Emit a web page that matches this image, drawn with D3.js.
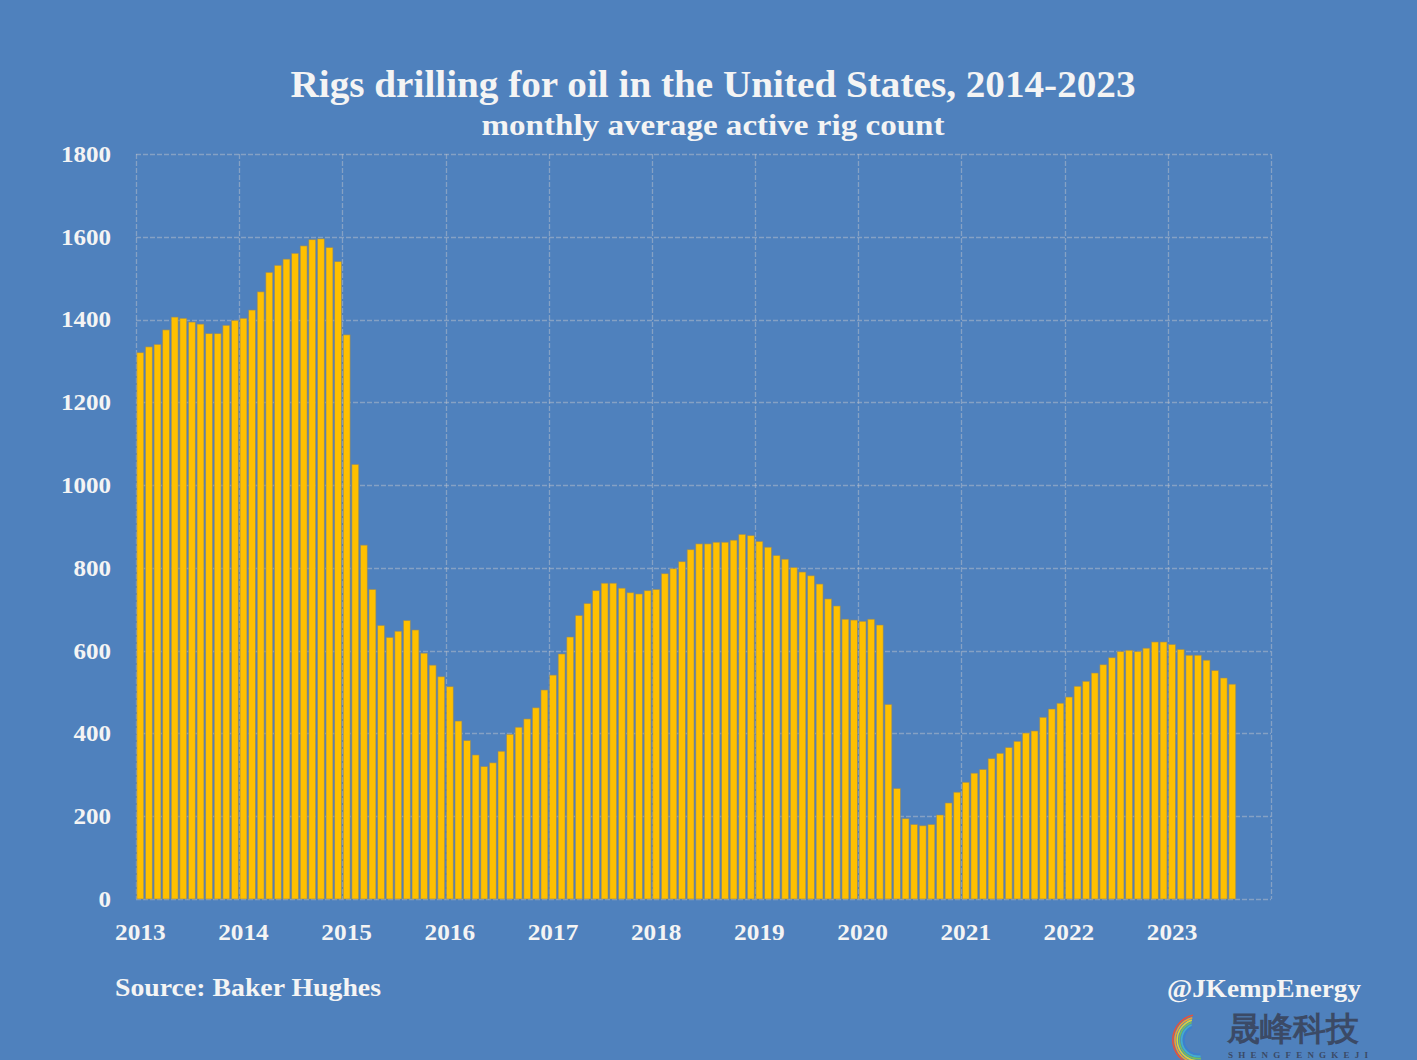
<!DOCTYPE html>
<html>
<head>
<meta charset="utf-8">
<script src="https://cdn.jsdelivr.net/npm/d3@7"></script>
<style>
  html, body { margin: 0; padding: 0; background: #4F81BD; }
  svg { display: block; }
  text { font-family: "Liberation Serif", "DejaVu Serif", serif; font-weight: bold; fill: #F4F4F4; }
</style>
</head>
<body>
<svg id="chart" width="1417" height="1060"></svg>
<script>
// ---------- data ----------
const years = [2013, 2014, 2015, 2016, 2017, 2018, 2019, 2020, 2021, 2022, 2023];
const axisYears = [2013, 2014, 2015, 2016, 2017, 2018, 2019, 2020, 2021, 2022, 2023, 2024];
const rigs2013 = [1320, 1334, 1340, 1375, 1406, 1403, 1394, 1389, 1366, 1366, 1386, 1398];
const rigs2014 = [1403, 1423, 1467, 1514, 1531, 1546, 1560, 1578, 1593, 1595, 1574, 1540];
const rigs2015 = [1363, 1050, 855, 748, 661, 632, 647, 673, 650, 594, 565, 537];
const rigs2016 = [513, 430, 383, 348, 320, 329, 357, 398, 415, 435, 462, 505];
const rigs2017 = [541, 592, 633, 685, 714, 745, 763, 763, 751, 740, 737, 745];
const rigs2018 = [748, 786, 798, 815, 844, 858, 858, 862, 862, 867, 881, 878];
const rigs2019 = [864, 850, 830, 821, 801, 790, 781, 761, 725, 708, 676, 674];
const rigs2020 = [671, 676, 662, 470, 267, 194, 180, 177, 180, 203, 232, 258];
const rigs2021 = [282, 304, 313, 339, 352, 366, 381, 401, 406, 439, 459, 473];
const rigs2022 = [488, 514, 526, 546, 566, 583, 598, 601, 598, 606, 621, 621];
const rigs2023 = [615, 603, 589, 589, 577, 552, 534, 519];
const yTicks = [0, 200, 400, 600, 800, 1000, 1200, 1400, 1600, 1800];
const titleText = "Rigs drilling for oil in the United States, 2014-2023";
const subtitleText = "monthly average active rig count";
const sourceText = "Source: Baker Hughes";
const handleText = "@JKempEnergy";

const seriesByYear = [rigs2013, rigs2014, rigs2015, rigs2016, rigs2017, rigs2018,
                      rigs2019, rigs2020, rigs2021, rigs2022, rigs2023];

// all month slots on the axis (2013-01 .. 2023-12)
const slots = [];
years.forEach(y => { for (let m = 0; m < 12; m++) slots.push(y + "-" + m); });
const data = [];
years.forEach((y, i) => seriesByYear[i].forEach((v, m) => data.push({ key: y + "-" + m, value: v })));

// widen glyphs to mimic the wider serif face of the original
function widen(sel, factor) {
  sel.each(function () {
    const w = this.getComputedTextLength();
    d3.select(this).attr("textLength", w * factor).attr("lengthAdjust", "spacingAndGlyphs");
  });
}

// ---------- layout ----------
const svg = d3.select("#chart");
const W = 1417, H = 1060;
const plot = { left: 136, right: 1271, top: 154, bottom: 899 };

svg.append("rect").attr("width", W).attr("height", H).attr("fill", "#4F81BD");

const x = d3.scaleBand().domain(slots).range([plot.left, plot.right]).paddingInner(0.2).paddingOuter(0.1);
const y = d3.scaleLinear().domain([0, 1800]).range([plot.bottom, plot.top]);
const step = x.step();
const yearX = yr => yr === 2024 ? plot.right : x(yr + "-0") - x.paddingOuter() * step;

// gridlines
const grid = svg.append("g").attr("stroke", "rgba(200,200,205,0.45)").attr("stroke-width", 1.3)
  .attr("stroke-dasharray", "5,2");
grid.selectAll("line.h").data(yTicks).join("line")
  .attr("x1", plot.left).attr("x2", plot.right)
  .attr("y1", d => Math.round(y(d)) + 0.5).attr("y2", d => Math.round(y(d)) + 0.5);
grid.selectAll("line.v").data(axisYears).join("line")
  .attr("y1", plot.top).attr("y2", plot.bottom)
  .attr("x1", d => Math.round(yearX(d)) + 0.5).attr("x2", d => Math.round(yearX(d)) + 0.5);

// bars
svg.append("g").selectAll("rect").data(data).join("rect")
  .attr("x", d => x(d.key))
  .attr("width", x.bandwidth())
  .attr("y", d => y(d.value))
  .attr("height", d => y(0) - y(d.value))
  .attr("fill", "#FFC000")
  .attr("stroke", "rgba(140,135,110,0.75)")
  .attr("stroke-width", 0.8);

// y axis labels
const yAxis = d3.axisLeft(y).tickValues(yTicks).tickSize(0).tickPadding(0).tickFormat(d3.format("d"));
const yg = svg.append("g").attr("transform", `translate(${plot.left - 25},0)`).call(yAxis);
yg.select(".domain").remove();
yg.selectAll("text").attr("font-size", 23).attr("fill", "#F4F4F4")
  .attr("font-family", "Liberation Serif").attr("font-weight", "bold").attr("dy", "0.32em");
widen(yg.selectAll("text"), 1.09);

// x axis labels (at each January)
const xg = svg.append("g");
xg.selectAll("text").data(years).join("text")
  .attr("x", d => x(d + "-0") + x.bandwidth() / 2)
  .attr("y", 940)
  .attr("text-anchor", "middle")
  .attr("font-size", 23)
  .text(d => d);
widen(xg.selectAll("text"), 1.1);

// titles
const t1 = svg.append("text").attr("x", 713).attr("y", 97).attr("text-anchor", "middle")
  .attr("font-size", 37).text(titleText);
t1.attr("textLength", 845).attr("lengthAdjust", "spacingAndGlyphs");
const t2 = svg.append("text").attr("x", 713).attr("y", 135).attr("text-anchor", "middle")
  .attr("font-size", 29).text(subtitleText);
t2.attr("textLength", 463).attr("lengthAdjust", "spacingAndGlyphs");

// footer
svg.append("text").attr("x", 115).attr("y", 996).attr("font-size", 25).text(sourceText)
  .attr("textLength", 266).attr("lengthAdjust", "spacingAndGlyphs");
svg.append("text").attr("x", 1361).attr("y", 997).attr("text-anchor", "end").attr("font-size", 25).text(handleText)
  .attr("textLength", 194).attr("lengthAdjust", "spacingAndGlyphs");

// watermark
const wm = svg.append("g");
const arcColors = ["#E5533C", "#F0A030", "#D8D040", "#70C060", "#40B0D0", "#3A80D0"];
arcColors.forEach((c, i) => {
  const r = 26 - i * 2.2;
  wm.append("path")
    .attr("d", d3.arc()({ innerRadius: r - 1.6, outerRadius: r, startAngle: -0.2 - i * 0.05, endAngle: -Math.PI * 1.05 }))
    .attr("transform", "translate(1198,1040)")
    .attr("fill", c);
});
wm.append("text").attr("x", 1227).attr("y", 1040).attr("font-size", 33)
  .attr("font-family", "Noto Sans CJK SC").attr("font-weight", "bold")
  .style("fill", "#3B4A66").text("晟峰科技");
wm.append("text").attr("x", 1228).attr("y", 1058).attr("font-size", 9)
  .attr("font-family", "Noto Sans").attr("letter-spacing", "5.2")
  .style("fill", "#3B4A66").text("SHENGFENGKEJI");
</script>
</body>
</html>
